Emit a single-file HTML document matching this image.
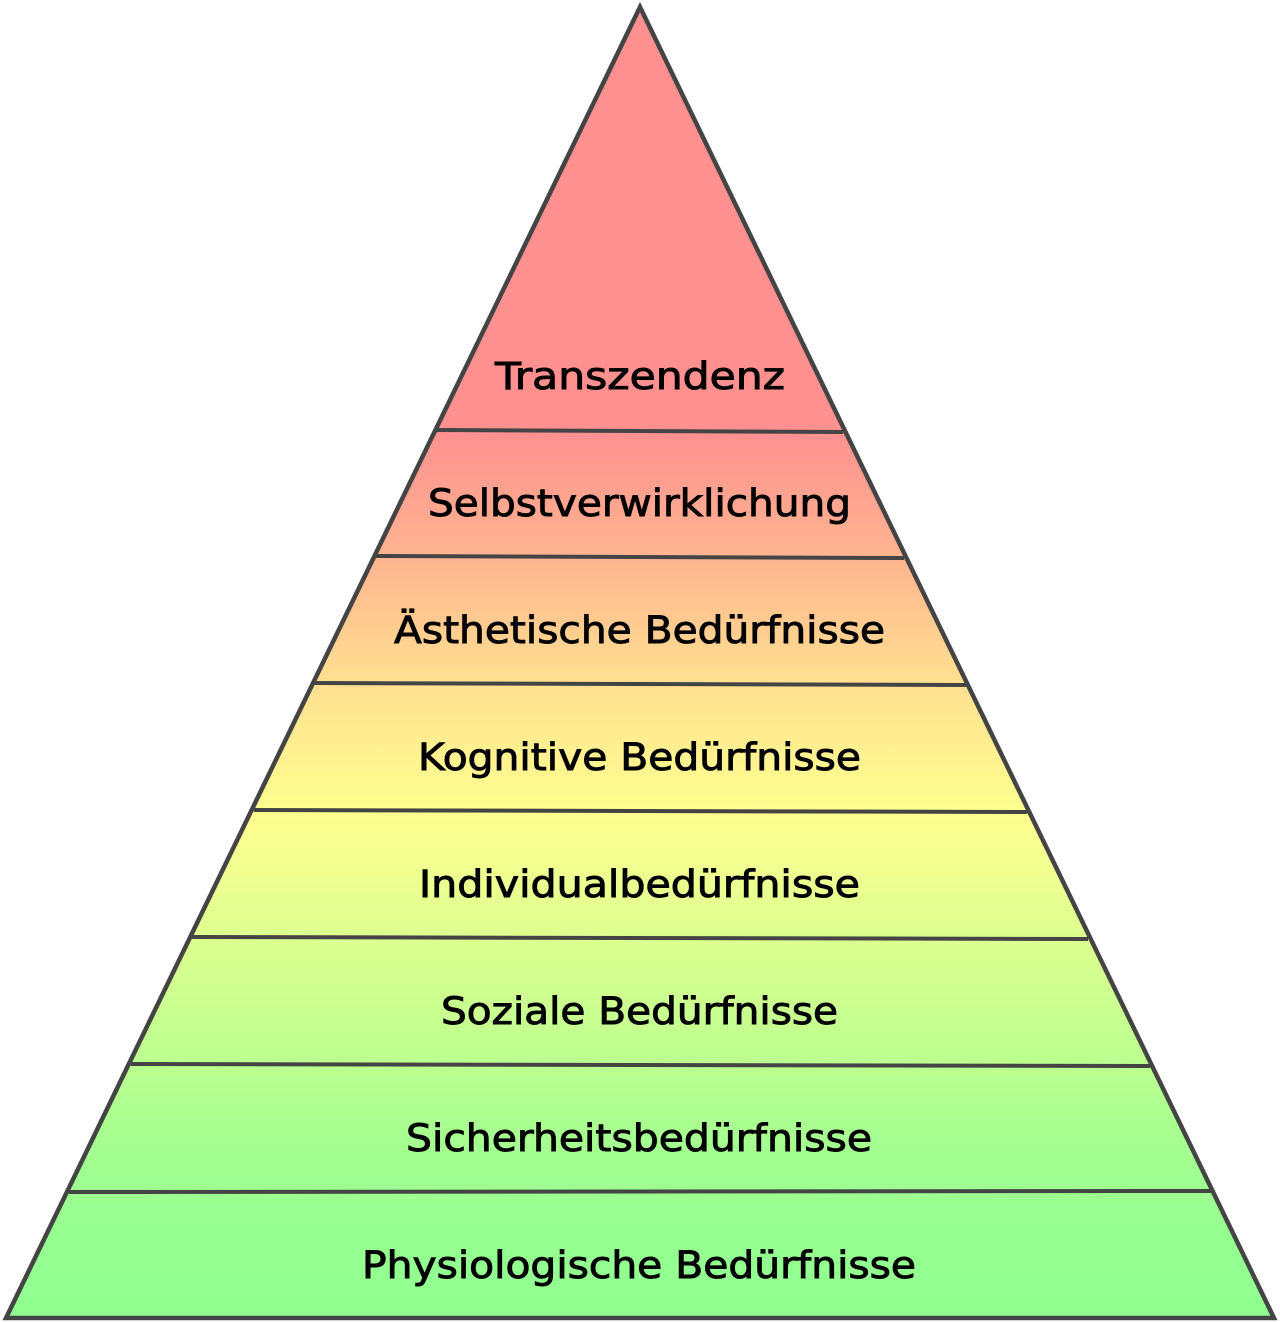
<!DOCTYPE html>
<html><head><meta charset="utf-8"><style>html,body{margin:0;padding:0;background:#fff}svg{display:block}</style></head>
<body>
<svg width="1280" height="1322" viewBox="0 0 1280 1322" xmlns="http://www.w3.org/2000/svg">
<defs>
<linearGradient id="g" gradientUnits="userSpaceOnUse" x1="0" y1="430" x2="0" y2="1318">
<stop offset="0" stop-color="#ff9090"/>
<stop offset="0.143" stop-color="#ffb490"/>
<stop offset="0.286" stop-color="#ffe090"/>
<stop offset="0.43" stop-color="#ffff90"/>
<stop offset="0.6" stop-color="#d6ff90"/>
<stop offset="0.8" stop-color="#a6ff90"/>
<stop offset="0.9" stop-color="#96ff90"/>
<stop offset="1" stop-color="#90ff90"/>
</linearGradient>
</defs>
<polygon points="640,7 1274,1318 6,1318" fill="url(#g)" stroke="#444" stroke-width="4.5" stroke-linejoin="miter"/>
<g stroke="#444" stroke-width="4">
<line x1="437" y1="430" x2="843" y2="432"/>
<line x1="376" y1="556" x2="904" y2="558"/>
<line x1="315" y1="683" x2="966" y2="685"/>
<line x1="254" y1="810" x2="1027" y2="812"/>
<line x1="192" y1="937" x2="1088" y2="939"/>
<line x1="131" y1="1064" x2="1150" y2="1066"/>
<line x1="69" y1="1192" x2="1212" y2="1191"/>
</g>
<g font-family="DejaVu Sans, Liberation Sans, sans-serif" font-size="37" fill="#000" stroke="#000" stroke-width="0.9">
<text x="495" y="389" textLength="290" lengthAdjust="spacingAndGlyphs">Transzendenz</text>
<text x="428" y="516" textLength="423" lengthAdjust="spacingAndGlyphs">Selbstverwirklichung</text>
<text x="394" y="643" textLength="491" lengthAdjust="spacingAndGlyphs">Ästhetische Bedürfnisse</text>
<text x="418" y="770" textLength="443" lengthAdjust="spacingAndGlyphs">Kognitive Bedürfnisse</text>
<text x="419" y="897" textLength="441" lengthAdjust="spacingAndGlyphs">Individualbedürfnisse</text>
<text x="441" y="1024" textLength="397" lengthAdjust="spacingAndGlyphs">Soziale Bedürfnisse</text>
<text x="406" y="1151" textLength="466" lengthAdjust="spacingAndGlyphs">Sicherheitsbedürfnisse</text>
<text x="362" y="1278" textLength="554" lengthAdjust="spacingAndGlyphs">Physiologische Bedürfnisse</text>
</g>
</svg>
</body></html>
